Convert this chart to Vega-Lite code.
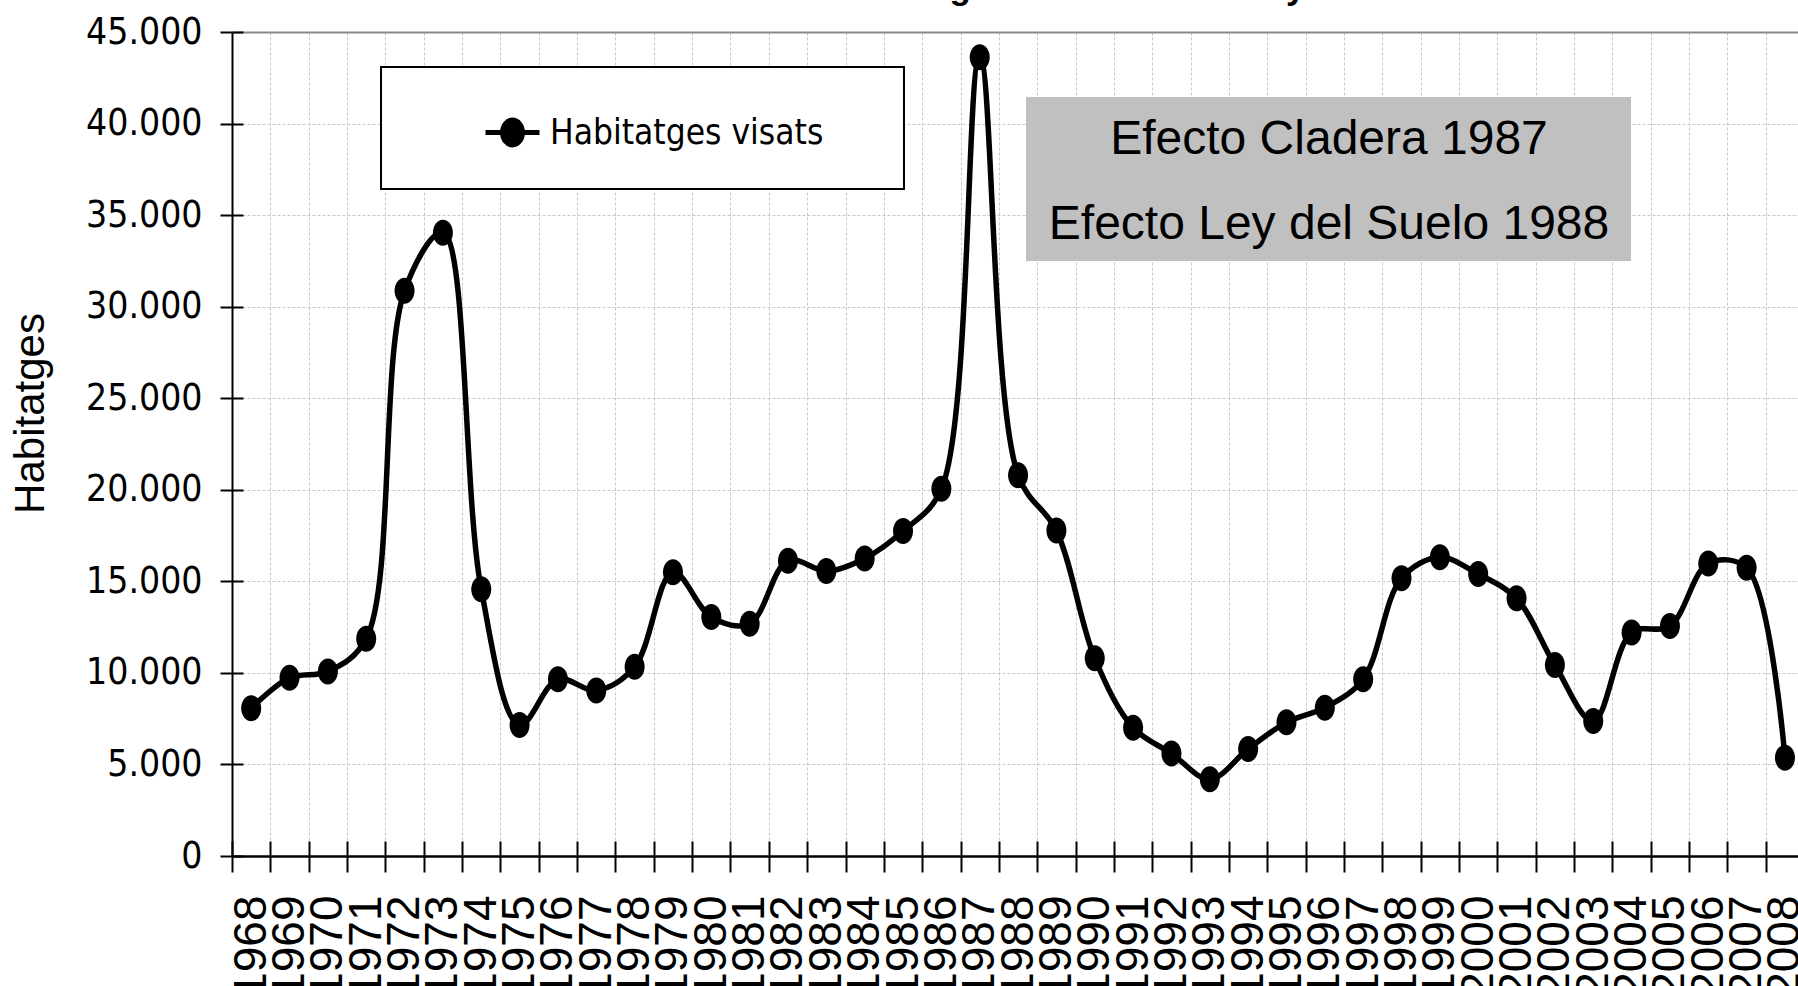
{
  "$schema": "https://vega.github.io/schema/vega-lite/v6.json",
  "width": 1566,
  "height": 824,
  "autosize": "none",
  "padding": {"left": 232, "top": 32, "right": 0, "bottom": 130},
  "background": "white",
  "title": {"text": "Habitatges visats a Catalunya", "font": "Liberation Sans", "fontSize": 35, "fontWeight": "bold", "anchor": "middle", "baseline": "alphabetic", "offset": 5, "dx": 63, "dy": 26, "color": "black"},
  "config": {"view": {"stroke": null}},
  "data": {"values": [
    {"year": 1968, "value": 8070},
    {"year": 1969, "value": 9730},
    {"year": 1970, "value": 10080},
    {"year": 1971, "value": 11870},
    {"year": 1972, "value": 30870},
    {"year": 1973, "value": 34040},
    {"year": 1974, "value": 14570},
    {"year": 1975, "value": 7150},
    {"year": 1976, "value": 9650},
    {"year": 1977, "value": 9040},
    {"year": 1978, "value": 10330},
    {"year": 1979, "value": 15500},
    {"year": 1980, "value": 13050},
    {"year": 1981, "value": 12690},
    {"year": 1982, "value": 16130},
    {"year": 1983, "value": 15560},
    {"year": 1984, "value": 16250},
    {"year": 1985, "value": 17750},
    {"year": 1986, "value": 20050},
    {"year": 1987, "value": 43620},
    {"year": 1988, "value": 20800},
    {"year": 1989, "value": 17770},
    {"year": 1990, "value": 10800},
    {"year": 1991, "value": 7010},
    {"year": 1992, "value": 5600},
    {"year": 1993, "value": 4190},
    {"year": 1994, "value": 5840},
    {"year": 1995, "value": 7300},
    {"year": 1996, "value": 8100},
    {"year": 1997, "value": 9650},
    {"year": 1998, "value": 15170},
    {"year": 1999, "value": 16310},
    {"year": 2000, "value": 15400},
    {"year": 2001, "value": 14070},
    {"year": 2002, "value": 10430},
    {"year": 2003, "value": 7370},
    {"year": 2004, "value": 12210},
    {"year": 2005, "value": 12560},
    {"year": 2006, "value": 15980},
    {"year": 2007, "value": 15740},
    {"year": 2008, "value": 5370}
  ]},
  "resolve": {"axis": {"x": "independent", "y": "independent"}},
  "layer": [
    {
      "data": {"values": [{}]},
      "mark": {"type": "rect", "fill": "#c0c0c0"},
      "encoding": {
        "x": {"datum": 1988.207, "type": "quantitative", "axis": null},
        "x2": {"datum": 2003.985},
        "y": {"datum": 41450, "type": "quantitative", "axis": null},
        "y2": {"datum": 32494}
      }
    },
    {
      "data": {"values": [{}]},
      "mark": {"type": "rect", "fill": "white", "stroke": "black", "strokeWidth": 2},
      "encoding": {
        "x": {"datum": 1971.386, "type": "quantitative", "axis": null},
        "x2": {"datum": 1985.025},
        "y": {"datum": 43089, "type": "quantitative", "axis": null},
        "y2": {"datum": 36426}
      }
    },
    {
      "mark": {"type": "line", "interpolate": "catmull-rom", "strokeWidth": 5.5},
      "encoding": {
        "x": {
          "field": "year", "type": "quantitative",
          "scale": {"domain": [1967.5, 2008.34], "nice": false, "zero": false},
          "axis": {
            "values": [1967.5,1968.5,1969.5,1970.5,1971.5,1972.5,1973.5,1974.5,1975.5,1976.5,1977.5,1978.5,1979.5,1980.5,1981.5,1982.5,1983.5,1984.5,1985.5,1986.5,1987.5,1988.5,1989.5,1990.5,1991.5,1992.5,1993.5,1994.5,1995.5,1996.5,1997.5,1998.5,1999.5,2000.5,2001.5,2002.5,2003.5,2004.5,2005.5,2006.5,2007.5],
            "labelExpr": "format(datum.value + 0.5, 'd')",
            "labelOffset": 19.17,
            "labelAngle": -90,
            "labelFont": "Liberation Sans",
            "labelFontSize": 46,
            "labelColor": "black",
            "labelPadding": 23,
            "labelOverlap": false,
            "labelFlush": false,
            "labelBound": false,
            "tickSize": 16,
            "tickWidth": 2,
            "tickColor": "black",
            "domainColor": "black",
            "domainWidth": 2.5,
            "grid": true,
            "gridColor": "#c8c8c8",
            "gridDash": [3, 2],
            "gridWidth": 1,
            "title": null
          }
        },
        "y": {
          "field": "value", "type": "quantitative",
          "scale": {"domain": [0, 45000], "nice": false},
          "axis": {
            "values": [0,5000,10000,15000,20000,25000,30000,35000,40000,45000],
            "labelExpr": "replace(format(datum.value, ','), ',', '.')",
            "labelFont": "DejaVu Sans Condensed, Liberation Sans Narrow, sans-serif",
            "labelFontSize": 37,
            "labelColor": "black",
            "labelPadding": 18,
            "labelOverlap": false,
            "labelFlush": false,
            "tickSize": 12,
            "tickWidth": 2,
            "tickColor": "black",
            "domainColor": "black",
            "domainWidth": 2,
            "grid": true,
            "gridColor": {"condition": {"test": "datum.value === 45000", "value": "#888888"}, "value": "#c8c8c8"},
            "gridDash": {"condition": {"test": "datum.value === 45000", "value": []}, "value": [3, 2]},
            "gridWidth": {"condition": {"test": "datum.value === 45000", "value": 2}, "value": 1},
            "title": "Habitatges",
            "titleFont": "Liberation Sans",
            "titleFontSize": 42,
            "titleFontWeight": "normal",
            "titleColor": "black",
            "titleX": -189,
            "titleY": 381,
            "titleAngle": -90,
            "titleAlign": "center",
            "titleBaseline": "alphabetic"
          }
        },
        "color": {
          "datum": "Habitatges visats", "type": "nominal",
          "scale": {"range": ["black"]},
          "legend": {
            "orient": "none",
            "legendX": 251,
            "legendY": 71,
            "title": null,
            "padding": 0,
            "symbolType": "M-1,0L1,0M-0.37,0A0.37,0.46 0 1,1 0.37,0A0.37,0.46 0 1,1 -0.37,0Z",
            "symbolSize": 2916,
            "symbolStrokeWidth": 5,
            "symbolFillColor": "black",
            "symbolStrokeColor": "black",
            "labelFont": "DejaVu Sans Condensed, Liberation Sans Narrow, sans-serif",
            "labelFontSize": 35,
            "labelColor": "black",
            "labelOffset": 8,
            "labelLimit": 0
          }
        }
      }
    },
    {
      "mark": {"type": "point", "filled": true, "color": "black", "opacity": 1, "size": 676, "shape": "M-0.77,0A0.77,1 0 1,1 0.77,0A0.77,1 0 1,1 -0.77,0Z"},
      "encoding": {
        "x": {
          "field": "year", "type": "quantitative",
          "axis": {
            "orient": "bottom",
            "values": [1967.5,1968.5,1969.5,1970.5,1971.5,1972.5,1973.5,1974.5,1975.5,1976.5,1977.5,1978.5,1979.5,1980.5,1981.5,1982.5,1983.5,1984.5,1985.5,1986.5,1987.5,1988.5,1989.5,1990.5,1991.5,1992.5,1993.5,1994.5,1995.5,1996.5,1997.5,1998.5,1999.5,2000.5,2001.5,2002.5,2003.5,2004.5,2005.5,2006.5,2007.5],
            "tickSize": -15, "tickWidth": 2, "tickColor": "black",
            "labels": false, "domain": false, "grid": false, "title": null
          }
        },
        "y": {
          "field": "value", "type": "quantitative",
          "axis": {
            "orient": "left",
            "values": [0,5000,10000,15000,20000,25000,30000,35000,40000,45000],
            "tickSize": -11, "tickWidth": 2, "tickColor": "black",
            "labels": false, "domain": false, "grid": false, "title": null
          }
        }
      }
    },
    {
      "data": {"values": [{}]},
      "mark": {"type": "text", "font": "Liberation Sans", "fontSize": 48, "align": "center", "baseline": "alphabetic", "color": "black"},
      "encoding": {
        "x": {"datum": 1996.109, "type": "quantitative", "axis": null},
        "y": {"datum": 38338, "type": "quantitative", "axis": null},
        "text": {"value": "Efecto Cladera 1987"}
      }
    },
    {
      "data": {"values": [{}]},
      "mark": {"type": "text", "font": "Liberation Sans", "fontSize": 48, "align": "center", "baseline": "alphabetic", "color": "black"},
      "encoding": {
        "x": {"datum": 1996.109, "type": "quantitative", "axis": null},
        "y": {"datum": 33696, "type": "quantitative", "axis": null},
        "text": {"value": "Efecto Ley del Suelo 1988"}
      }
    }
  ]
}
